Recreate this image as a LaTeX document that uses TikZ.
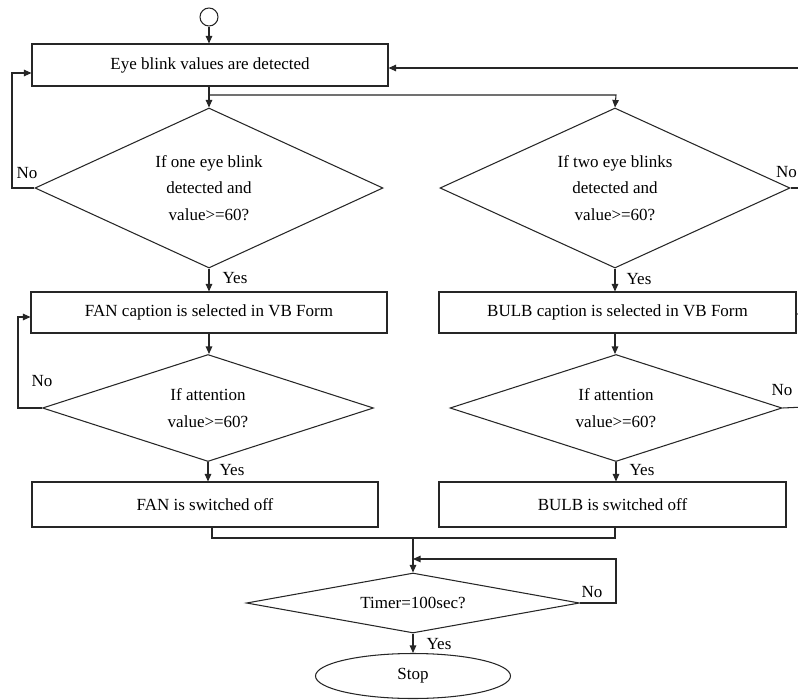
\documentclass[tikz,border=0pt]{standalone}
\usepackage{fontspec}
\setmainfont{Liberation Serif}
\usetikzlibrary{shapes.geometric,arrows.meta}
\begin{document}
\begin{tikzpicture}[x=1pt,y=-1pt,
  every node/.style={font=\fontsize{17}{26.5}\selectfont, text=black},
  ln/.style={draw=black!85, line width=1.05pt},
  arr/.style={ln, -{Triangle[length=7.5pt,width=6.5pt]}},
  boxnode/.style={draw=black!85, line width=1.05pt, rectangle, inner sep=0pt},
  decision/.style={draw=black!85, line width=1.05pt, diamond, inner sep=0pt, align=center},
  lab/.style={inner sep=0pt}
]
\useasboundingbox (0,0) rectangle (798,699);
\clip (0,0) rectangle (798,699);
\fill[white] (0,0) rectangle (798,699);

% nodes
\node[draw=black!85, line width=1.05pt, circle, minimum size=18pt, inner sep=0pt] (start) at (209,17) {};
\node[boxnode, minimum width=356pt, minimum height=42pt] (b1) at (210,65) {Eye blink values are detected};
\node[decision, minimum width=348pt, minimum height=160pt, shape aspect=2.175] (d1) at (209,188)
  {If one eye blink\\detected and\\value>=60?};
\node[decision, minimum width=350pt, minimum height=160pt, shape aspect=2.19] (d2) at (615,188)
  {If two eye blinks\\detected and\\value>=60?};
\node[boxnode, minimum width=356pt, minimum height=41pt] (b2) at (209,312.5) {FAN caption is selected in VB Form};
\node[boxnode, minimum width=357pt, minimum height=41pt] (b3) at (617.5,312.5) {BULB caption is selected in VB Form};
\node[decision, minimum width=331pt, minimum height=107pt, shape aspect=3.1] (d3) at (208,408)
  {If attention\\value>=60?};
\node[decision, minimum width=332pt, minimum height=107pt, shape aspect=3.1] (d4) at (616,408)
  {If attention\\value>=60?};
\node[boxnode, minimum width=346pt, minimum height=45pt] (b4) at (205,504.5) {FAN is switched off};
\node[boxnode, minimum width=347pt, minimum height=45pt] (b5) at (612.5,504.5) {BULB is switched off};
\node[decision, minimum width=333pt, minimum height=60pt, shape aspect=5.5] (d5) at (413,603) {Timer=100sec?};
\node[draw=black!85, line width=1.05pt, ellipse, minimum width=195pt, minimum height=45pt, inner sep=0pt] (stop) at (413,676) {Stop};

% labels
\node[lab] (no1) at (27,173) {No};
\node[lab] (yes1) at (235,278) {Yes};
\node[lab, anchor=east] (no2) at (797,172) {No};
\node[lab] (yes2) at (639,279) {Yes};
\node[lab] (no3) at (42,381) {No};
\node[lab] (yes3) at (232,470) {Yes};
\node[lab] (no4) at (782,390) {No};
\node[lab] (yes4) at (642,470) {Yes};
\node[lab] (no5) at (592,592) {No};
\node[lab] (yes5) at (439,644) {Yes};

% coordinates
\coordinate (br1) at (209,95);
\coordinate (br2) at (616,95);
\coordinate (L1) at (12,73);
\coordinate (L2) at (18,317);
\coordinate (R0) at (805,68);
\coordinate (R1) at (805,188);
\coordinate (R2) at (805,314);
\coordinate (R3) at (805,407);
\coordinate (M1) at (212,538);
\coordinate (M0) at (413,538);
\coordinate (M2) at (615,538);
\coordinate (T1) at (616,559);
\coordinate (T2) at (413,559);

% connectors
\draw[arr] (start.south) -- (start.south |- b1.north);
\draw[arr] (d1.north |- b1.south) -- (d1.north);
\draw[arr] (br1) -- (br2) -- (d2.north);
\draw[arr] (d1.west) -| (L1) -- (b1.west |- L1);
\draw[arr] (R0) -- (b1.east |- R0);
\draw[arr] (d1.south) -- (b2.north -| d1.south);
\draw[arr] (d2.south) -- (b3.north -| d2.south);
\draw[ln] (d2.east) -- (R1);
\draw[arr] (R2) -- (b3.east |- R2);
\draw[arr] (d1.south |- b2.south) -- (d3.north -| d1.south);
\draw[arr] (d2.south |- b3.south) -- (d4.north -| d2.south);
\draw[arr] (d3.west) -| (L2) -- (b2.west |- L2);
\draw[ln] (d4.east) -- (R3);
\draw[arr] (d3.south) -- (b4.north -| d3.south);
\draw[arr] (d4.south) -- (b5.north -| d4.south);
\draw[ln] (b4.south -| M1) -- (M1) -- (M2) -- (b5.south -| M2);
\draw[arr] (M0) -- (d5.north);
\draw[arr] (d5.east) -| (T1) -- (T2);
\draw[arr] (d5.south) -- (stop.north);
\end{tikzpicture}
\end{document}
